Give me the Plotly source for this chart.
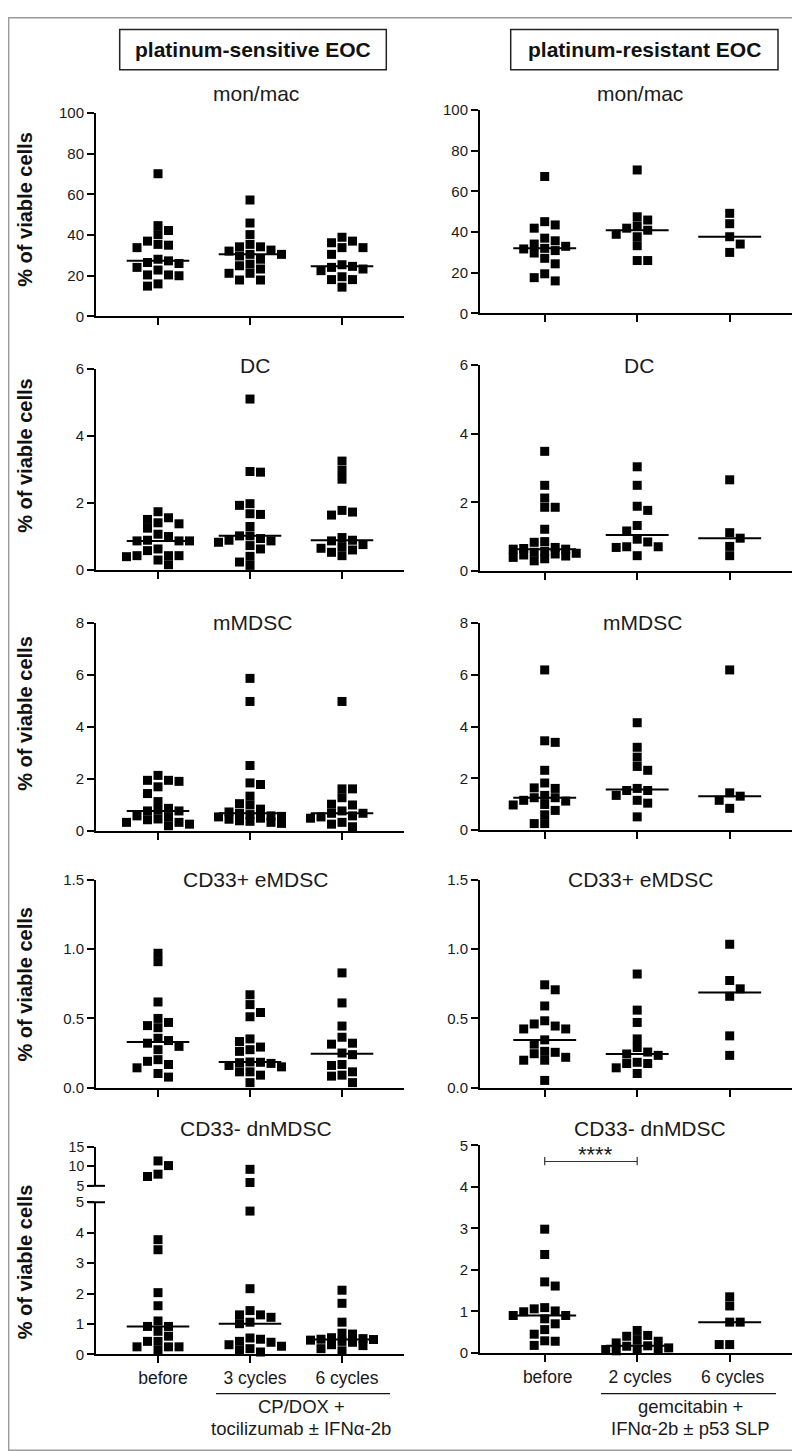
import numpy as np
import plotly.graph_objects as go

W, H = 800, 1451
FONT = "Liberation Sans, Arial, Helvetica, sans-serif"

# ---------------- text ----------------
column_titles = ["platinum-sensitive EOC", "platinum-resistant EOC"]
panel_titles = ["mon/mac", "DC", "mMDSC", "CD33+ eMDSC", "CD33- dnMDSC"]
y_title = "% of viable cells"
sens_groups = ["before", "3 cycles", "6 cycles"]
res_groups = ["before", "2 cycles", "6 cycles"]
sens_treatment = ["CP/DOX +", "tocilizumab ± IFNα-2b"]
res_treatment = ["gemcitabin +", "IFNα-2b ± p53 SLP"]
sig_label = "****"

# ---------------- data (% of viable cells) ----------------
monmac_sens_before = [70.1, 44.6, 42.2, 40.2, 37.0, 35.4, 35.0, 33.8, 28.1, 27.3, 26.5, 26.0, 24.1, 22.8, 20.4, 20.4, 20.0, 16.0, 14.9]
monmac_sens_3c = [57.2, 45.9, 40.2, 35.4, 34.2, 34.2, 32.6, 32.1, 30.5, 30.5, 29.7, 28.1, 25.7, 24.9, 23.3, 21.2, 21.2, 17.9, 17.9]
monmac_sens_6c = [38.9, 37.0, 36.2, 33.8, 33.8, 30.5, 25.4, 24.6, 24.1, 23.3, 22.5, 19.5, 18.1, 18.1, 14.4]
monmac_res_before = [67.3, 45.1, 43.5, 41.9, 37.0, 35.7, 34.1, 33.0, 32.0, 31.7, 30.9, 29.7, 27.1, 24.4, 19.5, 17.6, 16.0]
monmac_res_2c = [70.5, 47.5, 45.9, 43.0, 41.9, 40.9, 38.9, 37.7, 33.3, 26.0, 26.0]
monmac_res_6c = [49.2, 44.1, 37.7, 34.1, 30.0]

dc_sens_before = [1.73, 1.55, 1.50, 1.40, 1.37, 1.24, 1.06, 0.99, 0.88, 0.86, 0.86, 0.86, 0.62, 0.57, 0.42, 0.42, 0.42, 0.39, 0.29, 0.15]
dc_sens_3c = [5.09, 2.93, 2.91, 1.97, 1.92, 1.67, 1.65, 1.29, 1.01, 1.01, 0.93, 0.88, 0.86, 0.82, 0.72, 0.62, 0.40, 0.23, 0.13]
dc_sens_6c = [3.24, 2.96, 2.70, 1.77, 1.72, 1.63, 0.96, 0.88, 0.86, 0.75, 0.69, 0.64, 0.59, 0.52, 0.42]
dc_res_before = [3.49, 2.50, 2.13, 1.86, 1.86, 1.22, 0.86, 0.84, 0.69, 0.66, 0.64, 0.64, 0.58, 0.55, 0.52, 0.50, 0.47, 0.44, 0.40, 0.36, 0.30]
dc_res_2c = [3.04, 2.50, 1.89, 1.77, 1.33, 1.17, 0.93, 0.85, 0.71, 0.71, 0.69, 0.45]
dc_res_6c = [2.66, 1.12, 0.96, 0.72, 0.45]

mmdsc_sens_before = [2.13, 1.94, 1.94, 1.90, 1.69, 1.43, 1.12, 0.86, 0.79, 0.76, 0.76, 0.57, 0.53, 0.45, 0.42, 0.32, 0.32, 0.25, 0.19]
mmdsc_sens_3c = [5.87, 4.98, 2.51, 1.84, 1.78, 1.33, 1.04, 0.99, 0.83, 0.72, 0.67, 0.62, 0.57, 0.55, 0.53, 0.48, 0.44, 0.38, 0.36, 0.32, 0.28]
mmdsc_sens_6c = [4.98, 1.61, 1.61, 1.27, 1.02, 0.99, 0.76, 0.67, 0.67, 0.57, 0.53, 0.48, 0.32, 0.25, 0.15]
mmdsc_res_before = [6.19, 3.45, 3.39, 2.31, 1.82, 1.63, 1.61, 1.34, 1.25, 1.25, 1.15, 1.12, 0.99, 0.97, 0.76, 0.59, 0.25, 0.25]
mmdsc_res_2c = [4.15, 3.20, 2.82, 2.46, 2.31, 1.61, 1.53, 1.53, 1.34, 1.15, 1.04, 0.51]
mmdsc_res_6c = [6.19, 1.44, 1.31, 1.15, 0.84]

emdsc_sens_before = [0.971, 0.910, 0.619, 0.500, 0.471, 0.448, 0.433, 0.357, 0.340, 0.321, 0.298, 0.274, 0.202, 0.190, 0.167, 0.143, 0.102, 0.076]
emdsc_sens_3c = [0.671, 0.600, 0.543, 0.512, 0.352, 0.333, 0.293, 0.274, 0.262, 0.185, 0.183, 0.180, 0.175, 0.160, 0.150, 0.114, 0.114, 0.090, 0.036]
emdsc_sens_6c = [0.829, 0.612, 0.445, 0.364, 0.321, 0.314, 0.250, 0.238, 0.167, 0.160, 0.114, 0.090, 0.083, 0.036]
emdsc_res_before = [0.743, 0.707, 0.590, 0.483, 0.460, 0.445, 0.424, 0.424, 0.345, 0.314, 0.262, 0.255, 0.245, 0.219, 0.198, 0.198, 0.052]
emdsc_res_2c = [0.821, 0.560, 0.471, 0.352, 0.290, 0.257, 0.243, 0.233, 0.183, 0.174, 0.174, 0.143, 0.102]
emdsc_res_6c = [1.036, 0.774, 0.714, 0.660, 0.374, 0.233]

dnmdsc_sens_before = [11.4, 10.2, 8.0, 7.4, 3.77, 3.44, 2.03, 1.60, 1.10, 0.92, 0.92, 0.76, 0.60, 0.43, 0.43, 0.25, 0.25, 0.25, 0.13]
dnmdsc_sens_3c = [9.24, 5.85, 4.71, 2.16, 1.44, 1.30, 1.30, 1.22, 1.06, 1.01, 0.54, 0.50, 0.43, 0.40, 0.32, 0.27, 0.19, 0.13, 0.08]
dnmdsc_sens_6c = [2.11, 1.68, 1.06, 0.70, 0.67, 0.55, 0.52, 0.50, 0.49, 0.47, 0.43, 0.40, 0.32, 0.29, 0.19, 0.12]
dnmdsc_res_before = [2.98, 2.37, 1.71, 1.61, 1.09, 1.06, 1.01, 0.99, 0.90, 0.90, 0.82, 0.70, 0.56, 0.45, 0.29, 0.28, 0.18]
dnmdsc_res_2c = [0.54, 0.42, 0.40, 0.32, 0.28, 0.24, 0.17, 0.16, 0.12, 0.10, 0.08, 0.07, 0.05]
dnmdsc_res_6c = [1.35, 1.13, 0.74, 0.74, 0.20, 0.20]

# y-axis scales
y_ranges = [(0, 100), (0, 6), (0, 8), (0, 1.5), (0, 5)]
y_ticks = [[0, 20, 40, 60, 80, 100], [0, 2, 4, 6], [0, 2, 4, 6, 8], [0, 0.5, 1.0, 1.5], [0, 1, 2, 3, 4, 5]]
upper_range = (5, 15)
upper_ticks = [5, 10, 15]
break_at = 5
sig_y = 4.61

PANELS = [
    [[monmac_sens_before, monmac_sens_3c, monmac_sens_6c], [monmac_res_before, monmac_res_2c, monmac_res_6c]],
    [[dc_sens_before, dc_sens_3c, dc_sens_6c], [dc_res_before, dc_res_2c, dc_res_6c]],
    [[mmdsc_sens_before, mmdsc_sens_3c, mmdsc_sens_6c], [mmdsc_res_before, mmdsc_res_2c, mmdsc_res_6c]],
    [[emdsc_sens_before, emdsc_sens_3c, emdsc_sens_6c], [emdsc_res_before, emdsc_res_2c, emdsc_res_6c]],
    [[dnmdsc_sens_before, dnmdsc_sens_3c, dnmdsc_sens_6c], [dnmdsc_res_before, dnmdsc_res_2c, dnmdsc_res_6c]],
]

# ---------------- layout geometry (pixels) ----------------
COLS = [dict(x0=88, x1=396, c0=150, step=92), dict(x0=472, x1=785, c0=536.7, step=92.5)]
ROWS_PX = [
    [(97, 303), (94, 300)],
    [(355.7, 559.3), (352.3, 560.7)],
    [(613.3, 823.3), (613.3, 822.7)],
    [(873.3, 1083.3), (873.3, 1083.3)],
    [(1199.3, 1353.3), (1141.7, 1351.7)],
]
UPPER_PX = (1143.3, 1182.7)
TITLE_PY = [77, 353, 613, 873, 1125]
TITLE_PX = [[248, 632], [247, 631], [244, 634], [247, 632], [248, 642]]
YTITLE_PY = [195, 444, 705, 979, 1260]


def fx(px):
    return px / W


def fy(py):
    return 1 - py / H


def swarm(vals, ppu, ppc, lo=0.0, dy_min=8.5, gapx=10.5, step=5.25, max_off=33.0):
    """Deterministic column-scatter layout: offsets (in category units).
    Spread is limited to +-max_off px; in crowded rows points may touch/overlap."""
    vals = np.asarray(vals, float)
    order = np.argsort(-vals, kind="stable")
    placed = []
    offs = np.zeros(len(vals))
    toggle = True
    for i in order:
        y = (vals[i] - lo) * ppu
        cands = [0.0]
        k = 1
        while k * step <= max_off + 1e-9:
            s = k * step
            cands += [s, -s] if toggle else [-s, s]
            k += 1
        best, best_score = None, -1.0
        for c in cands:
            if not placed:
                best = c
                break
            score = min(max(abs(c - px) / gapx, abs(y - py) / dy_min) for px, py in placed)
            if score >= 1.0:
                best = c
                break
            if score > best_score + 1e-9:
                best, best_score = c, score
        if best != 0:
            toggle = not toggle
        placed.append((best, y))
        offs[i] = best / ppc
    return offs


fig = go.Figure()
tick_font = dict(family=FONT, size=15, color="#1a1a1a")

for r in range(5):
    for c in range(2):
        k = r * 2 + c + 1
        col = COLS[c]
        top, bot = ROWS_PX[r][c]
        xa = "x" if k == 1 else f"x{k}"
        ya = "y" if k == 1 else f"y{k}"
        ylo, yhi = y_ranges[r]
        ppu = (bot - top) / (yhi - ylo)
        broken = (r == 4 and c == 0)
        if broken:
            ppu_up = (UPPER_PX[1] - UPPER_PX[0]) / (upper_range[1] - upper_range[0])
        for g, vals in enumerate(PANELS[r][c]):
            vals = np.asarray(vals, float)
            if broken:
                low = vals[vals <= break_at]
                up = vals[vals > break_at]
                parts = [(low, ya, swarm(low, ppu, col["step"])),
                         (up, "y11", swarm(up, ppu_up, col["step"], lo=break_at))]
            else:
                parts = [(vals, ya, swarm(vals, ppu, col["step"]))]
            for v, yax, offs in parts:
                if len(v) == 0:
                    continue
                fig.add_trace(go.Scatter(
                    x=g + offs, y=v, mode="markers", xaxis=xa, yaxis=yax,
                    marker=dict(symbol="square", size=9, color="black", line=dict(width=0)),
                    cliponaxis=False, showlegend=False, hoverinfo="y"))
            med = float(np.median(vals))
            fig.add_trace(go.Scatter(
                x=[g - 0.34, g + 0.34], y=[med, med], mode="lines", xaxis=xa, yaxis=ya,
                line=dict(color="black", width=2), cliponaxis=False, showlegend=False,
                hoverinfo="skip"))

        groups = sens_groups if c == 0 else res_groups
        fig.layout[f"xaxis{'' if k == 1 else k}"] = dict(
            domain=[fx(col["x0"]), fx(col["x1"])],
            range=[(col["x0"] - col["c0"]) / col["step"], (col["x1"] - col["c0"]) / col["step"]],
            anchor=ya, showline=True, linewidth=2, linecolor="black", mirror=False,
            ticks="outside", ticklen=7, tickwidth=2, tickcolor="black",
            tickvals=[0, 1, 2], ticktext=groups, showticklabels=(r == 4),
            tickfont=dict(family=FONT, size=17.5, color="#1a1a1a"),
            ticklabelshift=5 if c == 0 else 3,
            showgrid=False, zeroline=False, fixedrange=True)
        fig.layout[f"yaxis{'' if k == 1 else k}"] = dict(
            domain=[fy(bot), fy(top)], range=[ylo, yhi], anchor=xa,
            showline=True, linewidth=2, linecolor="black",
            ticks="outside", ticklen=7, tickwidth=2, tickcolor="black",
            tickvals=y_ticks[r], tickformat=".1f" if r == 3 else "d",
            tickfont=tick_font, showgrid=False, zeroline=False, fixedrange=True)

# upper segment of the broken axis (left, last row)
fig.layout["yaxis11"] = dict(
    domain=[fy(UPPER_PX[1]), fy(UPPER_PX[0])], range=list(upper_range), anchor="x9",
    showline=True, linewidth=2, linecolor="black",
    ticks="outside", ticklen=7, tickwidth=2, tickcolor="black",
    tickvals=upper_ticks, tickfont=dict(family=FONT, size=14, color="#1a1a1a"),
    showgrid=False, zeroline=False, fixedrange=True)

# significance bracket (right, last row)
fig.add_trace(go.Scatter(
    x=[0, 0, None, 0, 1, None, 1, 1],
    y=[sig_y - 0.09, sig_y + 0.11, None, sig_y, sig_y, None, sig_y - 0.09, sig_y + 0.11],
    mode="lines", xaxis="x10", yaxis="y10", line=dict(color="#333333", width=1.2),
    cliponaxis=False, showlegend=False, hoverinfo="skip"))

annotations = []
shapes = []

annotations.append(dict(x=0.55, y=sig_y + 0.17, xref="x10", yref="y10", text=sig_label,
                        showarrow=False, font=dict(family=FONT, size=22, color="#1a1a1a"),
                        xanchor="center", yanchor="middle"))

# column header boxes
boxes = [(111.7, 12.7, 378.3, 53.3), (502.7, 12.7, 770, 53.3)]
for (x0, y0, x1, y1), t in zip(boxes, column_titles):
    shapes.append(dict(type="rect", xref="paper", yref="paper", x0=fx(x0), x1=fx(x1),
                       y0=fy(y1), y1=fy(y0), line=dict(color="#222222", width=1.5)))
    annotations.append(dict(x=fx((x0 + x1) / 2), y=fy((y0 + y1) / 2 - 0.5), xref="paper", yref="paper",
                            text=f"<b>{t}</b>", showarrow=False,
                            font=dict(family=FONT, size=21, color="#111111"),
                            xanchor="center", yanchor="middle"))

# panel titles
for r in range(5):
    for c in range(2):
        annotations.append(dict(x=fx(TITLE_PX[r][c]), y=fy(TITLE_PY[r]), xref="paper", yref="paper",
                                text=panel_titles[r], showarrow=False,
                                font=dict(family=FONT, size=21, color="#1a1a1a"),
                                xanchor="center", yanchor="middle"))
    annotations.append(dict(x=fx(17), y=fy(YTITLE_PY[r]), xref="paper", yref="paper",
                            text=f"<b>{y_title}</b>", showarrow=False, textangle=-90,
                            font=dict(family=FONT, size=20, color="#111111"),
                            xanchor="center", yanchor="middle"))

# treatment labels under the last row
for (lx0, lx1, cx), lines in [((208, 382, 293), sens_treatment), ((593, 768, 682), res_treatment)]:
    shapes.append(dict(type="line", xref="paper", yref="paper", x0=fx(lx0), x1=fx(lx1),
                       y0=fy(1393), y1=fy(1393), line=dict(color="#111111", width=1.3)))
    for py, t in zip([1406, 1428], lines):
        annotations.append(dict(x=fx(cx), y=fy(py), xref="paper", yref="paper", text=t,
                                showarrow=False, font=dict(family=FONT, size=18.5, color="#1a1a1a"),
                                xanchor="center", yanchor="middle"))

# axis break marks
for py in [UPPER_PX[1], ROWS_PX[4][0][0]]:
    shapes.append(dict(type="line", xref="paper", yref="paper", x0=fx(80), x1=fx(97),
                       y0=fy(py), y1=fy(py), line=dict(color="black", width=2)))

# outer frame
shapes.append(dict(type="rect", xref="paper", yref="paper", x0=0.0008, x1=0.999, y0=0.0006, y1=0.9994,
                   line=dict(color="#9a9a9a", width=1.5)))

fig.update_layout(
    width=W, height=H, margin=dict(l=0, r=0, t=0, b=0),
    paper_bgcolor="white", plot_bgcolor="white",
    annotations=annotations, shapes=shapes, showlegend=False,
    font=dict(family=FONT, color="#1a1a1a"),
)

fig.write_html("out.html")
